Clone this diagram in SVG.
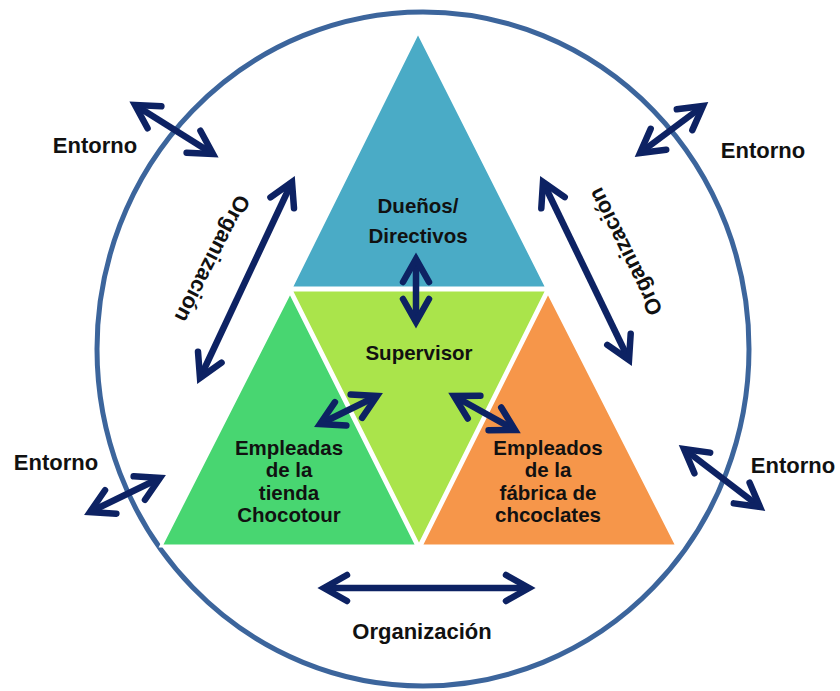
<svg xmlns="http://www.w3.org/2000/svg" width="840" height="691" viewBox="0 0 840 691">
<defs>
<style>
.lbl{font-family:"Liberation Sans",Arial,sans-serif;font-weight:bold;fill:#111;text-anchor:middle}
.in{font-size:20.5px}
.out{font-size:22px}
.tri{stroke:#fff;stroke-width:3;stroke-linejoin:miter}
.arr{stroke:#0d2263;stroke-width:6.5;fill:none;marker-start:url(#ah);marker-end:url(#ah)}
</style>
<marker id="ah" markerUnits="userSpaceOnUse" viewBox="-32 -18 40 36" markerWidth="40" markerHeight="36" refX="0" refY="0" orient="auto-start-reverse" overflow="visible">
<path d="M-23,-13 L0,0 L-23,13" fill="none" stroke="#0d2263" stroke-width="6.5" stroke-linejoin="miter" stroke-linecap="round"/>
</marker>
</defs>
<rect width="840" height="691" fill="#fff"/>
<g id="environment">
<ellipse cx="423" cy="349" rx="326" ry="337" fill="none" stroke="#3c659c" stroke-width="5"/>
</g>
<g id="duenos">
<polygon class="tri" points="418,32 291,288 547,288" fill="#4aabc6"/>
<text class="lbl in" x="418" y="213">Dueños/</text>
<text class="lbl in" x="418" y="243">Directivos</text>
</g>
<g id="supervisor">
<polygon class="tri" points="291,290 547,290 419,546" fill="#aae44b"/>
<text class="lbl in" x="419" y="360">Supervisor</text>
</g>
<g id="empleadas">
<polygon class="tri" points="290,292 161,546 417,546" fill="#48d671"/>
<text class="lbl in" x="289" y="455">Empleadas</text>
<text class="lbl in" x="289" y="477">de la</text>
<text class="lbl in" x="289" y="500">tienda</text>
<text class="lbl in" x="289" y="522">Chocotour</text>
</g>
<g id="empleados">
<polygon class="tri" points="548,292 421,546 677,546" fill="#f6964a"/>
<text class="lbl in" x="548" y="455">Empleados</text>
<text class="lbl in" x="548" y="477">de la</text>
<text class="lbl in" x="548" y="500">fábrica de</text>
<text class="lbl in" x="548" y="522">chcoclates</text>
</g>
<g id="labels">
<text class="lbl out" x="95" y="153">Entorno</text>
<text class="lbl out" x="763" y="158">Entorno</text>
<text class="lbl out" x="56" y="470">Entorno</text>
<text class="lbl out" x="793" y="473">Entorno</text>
<text class="lbl out" x="422" y="639">Organización</text>
<text class="lbl out" transform="translate(213,259) rotate(117)" x="0" y="8">Organización</text>
<text class="lbl out" transform="translate(625,252) rotate(-116.5)" x="0" y="8">Organización</text>
</g>
<g id="connectors">
<line class="arr" x1="135" y1="105" x2="213" y2="154"/>
<line class="arr" x1="640" y1="153" x2="703" y2="106"/>
<line class="arr" x1="90" y1="512" x2="160" y2="478"/>
<line class="arr" x1="684" y1="449" x2="760" y2="507"/>
<line class="arr" x1="292" y1="182" x2="200" y2="378"/>
<line class="arr" x1="543" y1="182" x2="629" y2="360"/>
<line class="arr" x1="324" y1="588" x2="529" y2="588"/>
<line class="arr" x1="416" y1="259" x2="416" y2="322"/>
<line class="arr" x1="320" y1="424" x2="377" y2="396"/>
<line class="arr" x1="454" y1="396" x2="515" y2="430"/>
</g>
</svg>
